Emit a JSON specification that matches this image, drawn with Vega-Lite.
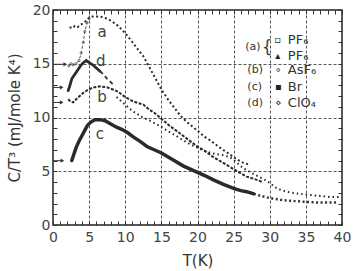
{
 "$schema": "https://vega.github.io/schema/vega-lite/v6.json",
 "width": 289, "height": 215,
 "autosize": "none",
 "padding": {"left": 53, "top": 10, "right": 12, "bottom": 46},
 "background": "white",
 "config": {"view": {"stroke": "#222", "strokeWidth": 1.5}, "font": "DejaVu Sans"},
 "datasets": {
  "curves": [
   {"s":"a","T":2.3,"C":18.4},{"s":"a","T":2.7,"C":18.3},{"s":"a","T":3.0,"C":18.5},{"s":"a","T":3.4,"C":18.4},{"s":"a","T":3.8,"C":18.6},{"s":"a","T":4.2,"C":18.8},{"s":"a","T":4.6,"C":19.0},{"s":"a","T":5.0,"C":19.3},{"s":"a","T":5.5,"C":19.4},{"s":"a","T":6.0,"C":19.4},{"s":"a","T":6.5,"C":19.4},{"s":"a","T":7.0,"C":19.3},{"s":"a","T":7.5,"C":19.2},{"s":"a","T":8.0,"C":19.0},{"s":"a","T":8.7,"C":18.7},{"s":"a","T":9.5,"C":18.2},{"s":"a","T":10.3,"C":17.6},{"s":"a","T":11.0,"C":17.0},{"s":"a","T":11.8,"C":16.3},{"s":"a","T":12.5,"C":15.7},{"s":"a","T":13.4,"C":14.6},{"s":"a","T":14.2,"C":13.6},{"s":"a","T":15.1,"C":12.5},{"s":"a","T":16.0,"C":11.6},{"s":"a","T":16.8,"C":10.9},{"s":"a","T":17.6,"C":10.2},{"s":"a","T":18.5,"C":9.6},{"s":"a","T":19.4,"C":9.1},{"s":"a","T":20.3,"C":8.6},{"s":"a","T":21.0,"C":8.2},{"s":"a","T":21.7,"C":7.9},{"s":"a","T":22.5,"C":7.5},{"s":"a","T":23.3,"C":7.1},{"s":"a","T":24.0,"C":6.8},{"s":"a","T":24.8,"C":6.4},{"s":"a","T":25.5,"C":6.1},{"s":"a","T":26.3,"C":5.8},{"s":"a","T":27.2,"C":5.6},
   {"s":"a2","T":2.2,"C":14.8},{"s":"a2","T":2.5,"C":15.0},{"s":"a2","T":2.8,"C":14.9},{"s":"a2","T":3.2,"C":15.0},{"s":"a2","T":3.6,"C":15.3},{"s":"a2","T":3.9,"C":16.0},{"s":"a2","T":4.2,"C":17.0},{"s":"a2","T":4.4,"C":18.0},{"s":"a2","T":4.7,"C":18.8},{"s":"a2","T":5.0,"C":19.2},
   {"s":"d","T":2.1,"C":12.5},{"s":"d","T":2.3,"C":12.9},{"s":"d","T":2.6,"C":13.6},{"s":"d","T":3.0,"C":14.0},{"s":"d","T":3.4,"C":14.4},{"s":"d","T":3.8,"C":14.8},{"s":"d","T":4.2,"C":15.1},{"s":"d","T":4.6,"C":15.3},{"s":"d","T":5.0,"C":15.1},{"s":"d","T":5.5,"C":14.9},{"s":"d","T":6.0,"C":14.6},{"s":"d","T":6.5,"C":14.3},
   {"s":"d2","T":6.5,"C":14.3},{"s":"d2","T":7.0,"C":14.0},{"s":"d2","T":7.5,"C":13.6},{"s":"d2","T":8.0,"C":13.3},{"s":"d2","T":8.4,"C":13.0},
   {"s":"b","T":2.1,"C":11.7},{"s":"b","T":2.4,"C":11.5},{"s":"b","T":2.8,"C":11.4},{"s":"b","T":3.2,"C":11.7},{"s":"b","T":3.7,"C":12.0},{"s":"b","T":4.2,"C":12.3},{"s":"b","T":4.9,"C":12.6},{"s":"b","T":5.6,"C":12.8},{"s":"b","T":6.5,"C":12.9},{"s":"b","T":7.5,"C":12.8},{"s":"b","T":8.3,"C":12.6},{"s":"b","T":9.0,"C":12.4},{"s":"b","T":10.0,"C":11.9},{"s":"b","T":11.1,"C":11.5},{"s":"b","T":12.0,"C":11.3},{"s":"b","T":12.5,"C":11.2},{"s":"b","T":13.4,"C":10.7},{"s":"b","T":14.1,"C":10.4},{"s":"b","T":14.8,"C":10.0},{"s":"b","T":16.0,"C":9.3},{"s":"b","T":17.0,"C":8.8},{"s":"b","T":18.0,"C":8.3},{"s":"b","T":19.0,"C":7.8},{"s":"b","T":20.0,"C":7.3},{"s":"b","T":21.0,"C":6.9},{"s":"b","T":22.0,"C":6.4},{"s":"b","T":23.0,"C":6.0},{"s":"b","T":24.0,"C":5.6},{"s":"b","T":25.0,"C":5.2},{"s":"b","T":26.0,"C":4.8},{"s":"b","T":26.8,"C":4.5},{"s":"b","T":27.8,"C":4.3},{"s":"b","T":29.0,"C":4.0},
   {"s":"e","T":8.8,"C":11.9},{"s":"e","T":9.8,"C":11.3},{"s":"e","T":11.0,"C":10.6},{"s":"e","T":12.2,"C":10.1},{"s":"e","T":13.4,"C":9.7},{"s":"e","T":14.8,"C":9.2},{"s":"e","T":16.0,"C":8.7},{"s":"e","T":17.0,"C":8.3},{"s":"e","T":18.0,"C":7.9},{"s":"e","T":19.0,"C":7.5},{"s":"e","T":20.3,"C":7.1},{"s":"e","T":21.3,"C":6.8},{"s":"e","T":22.5,"C":6.6},{"s":"e","T":23.5,"C":6.5},{"s":"e","T":24.5,"C":6.3},{"s":"e","T":25.3,"C":5.9},{"s":"e","T":26.3,"C":5.3},{"s":"e","T":27.3,"C":4.9},{"s":"e","T":28.5,"C":4.5},{"s":"e","T":29.6,"C":4.1},{"s":"e","T":30.4,"C":3.7},{"s":"e","T":31.0,"C":3.4},{"s":"e","T":31.8,"C":3.2},{"s":"e","T":33.0,"C":3.0},{"s":"e","T":34.2,"C":2.9},{"s":"e","T":35.5,"C":2.8},{"s":"e","T":37.0,"C":2.7},{"s":"e","T":38.5,"C":2.6},{"s":"e","T":39.8,"C":2.6},
   {"s":"c","T":2.6,"C":6.0},{"s":"c","T":2.9,"C":6.6},{"s":"c","T":3.2,"C":7.2},{"s":"c","T":3.6,"C":7.8},{"s":"c","T":4.0,"C":8.3},{"s":"c","T":4.4,"C":8.8},{"s":"c","T":4.8,"C":9.3},{"s":"c","T":5.3,"C":9.6},{"s":"c","T":5.8,"C":9.8},{"s":"c","T":6.5,"C":9.8},{"s":"c","T":7.2,"C":9.7},{"s":"c","T":8.0,"C":9.4},{"s":"c","T":8.8,"C":9.1},{"s":"c","T":9.5,"C":8.9},{"s":"c","T":10.3,"C":8.6},{"s":"c","T":11.1,"C":8.2},{"s":"c","T":12.0,"C":7.8},{"s":"c","T":13.0,"C":7.3},{"s":"c","T":14.0,"C":7.0},{"s":"c","T":15.0,"C":6.7},{"s":"c","T":16.0,"C":6.3},{"s":"c","T":17.0,"C":5.9},{"s":"c","T":18.0,"C":5.5},{"s":"c","T":19.0,"C":5.2},{"s":"c","T":20.0,"C":4.9},{"s":"c","T":21.0,"C":4.6},{"s":"c","T":22.2,"C":4.2},{"s":"c","T":23.5,"C":3.8},{"s":"c","T":25.0,"C":3.4},{"s":"c","T":26.0,"C":3.2},{"s":"c","T":26.8,"C":3.1},{"s":"c","T":27.8,"C":2.9},
   {"s":"c2","T":27.8,"C":2.9},{"s":"c2","T":28.8,"C":2.7},{"s":"c2","T":30.0,"C":2.5},{"s":"c2","T":31.0,"C":2.4},{"s":"c2","T":32.0,"C":2.3},{"s":"c2","T":33.0,"C":2.25},{"s":"c2","T":34.0,"C":2.2},{"s":"c2","T":35.0,"C":2.15},{"s":"c2","T":36.5,"C":2.1},{"s":"c2","T":38.0,"C":2.1},{"s":"c2","T":39.5,"C":2.1}
  ],
  "arrows": [
   {"C":14.95,"T0":0,"T1":1.7},{"C":12.8,"T0":0,"T1":1.2},{"C":11.4,"T0":0,"T1":1.2},{"C":5.98,"T0":0,"T1":1.3}
  ],
  "tags": [
   {"t":"a","T":6.8,"C":18.0},{"t":"d","T":6.6,"C":15.3},{"t":"b","T":6.8,"C":11.9},{"t":"c","T":6.5,"C":8.5}
  ],
  "legtags": [
   {"t":"(a)","T":26.6,"C":16.6},{"t":"(b)","T":26.9,"C":14.4},{"t":"(c)","T":26.9,"C":12.85},{"t":"(d)","T":26.9,"C":11.35}
  ],
  "legsyms": [
   {"t":"▫","T":31.1,"C":17.2},{"t":"▴","T":31.1,"C":15.7},{"t":"∘","T":31.2,"C":14.4},{"t":"▪","T":31.2,"C":12.85},{"t":"⋄","T":31.2,"C":11.35}
  ],
  "legnames": [
   {"t":"PF₆","T":32.5,"C":17.2},{"t":"PF₆","T":32.5,"C":15.7},{"t":"AsF₆","T":32.5,"C":14.4},{"t":"Br","T":32.5,"C":12.85},{"t":"ClO₄","T":32.5,"C":11.35}
  ],
  "brace": [{"t":"{","T":28.9,"C":16.45}]
 },
 "layer": [
  {
   "data": {"name": "curves"},
   "transform": [{"filter": "datum.s === 'c'"}],
   "mark": {"type": "line", "strokeWidth": 3.5, "color": "#2a2a2a", "strokeCap": "round"},
   "encoding": {
    "x": {"field": "T", "type": "quantitative", "scale": {"domain": [0, 40], "nice": false},
     "axis": {"orient": "bottom", "values": [0,1,2,3,4,5,6,7,8,9,10,11,12,13,14,15,16,17,18,19,20,21,22,23,24,25,26,27,28,29,30,31,32,33,34,35,36,37,38,39,40],
      "labelExpr": "datum.value % 5 === 0 ? datum.label : ''", "labelFlush": false, "labelOverlap": false,
      "labelFontSize": 14, "labelColor": "#444", "labelFont": "DejaVu Sans", "labelPadding": 9,
      "tickSize": -4, "tickColor": "#333", "tickWidth": 1,
      "grid": true, "gridDash": [3, 2], "gridColor": "#444", "gridWidth": 0.9,
      "gridOpacity": {"condition": {"test": "datum.value % 5 === 0 && datum.value > 0 && datum.value < 40", "value": 1}, "value": 0},
      "domain": false, "title": "T(K)", "titleFontSize": 15, "titleFontWeight": "normal", "titleColor": "#333", "titleFont": "DejaVu Sans", "titlePadding": 9}},
    "y": {"field": "C", "type": "quantitative", "scale": {"domain": [0, 20], "nice": false},
     "axis": {"orient": "left", "values": [0,1,2,3,4,5,6,7,8,9,10,11,12,13,14,15,16,17,18,19,20],
      "labelExpr": "datum.value % 5 === 0 ? datum.label : ''", "labelFlush": false, "labelOverlap": false,
      "labelFontSize": 14, "labelColor": "#444", "labelFont": "DejaVu Sans", "labelPadding": 7,
      "tickSize": -4, "tickColor": "#333", "tickWidth": 1,
      "grid": true, "gridDash": [3, 2], "gridColor": "#444", "gridWidth": 0.9,
      "gridOpacity": {"condition": {"test": "datum.value % 5 === 0 && datum.value > 0 && datum.value < 20", "value": 1}, "value": 0},
      "domain": false, "title": "C/T³ (mJ/mole K⁴)", "titleFontSize": 15, "titleFontWeight": "normal", "titleColor": "#333", "titleFont": "DejaVu Sans", "titlePadding": 10}}
   }
  },
  {
   "data": {"name": "arrows"},
   "mark": {"type": "rule", "strokeWidth": 1, "color": "#333"},
   "encoding": {
    "x": {"field": "T0", "type": "quantitative",
     "axis": {"orient": "top", "values": [0,1,2,3,4,5,6,7,8,9,10,11,12,13,14,15,16,17,18,19,20,21,22,23,24,25,26,27,28,29,30,31,32,33,34,35,36,37,38,39,40], "labels": false, "tickSize": -4, "tickColor": "#333", "grid": false, "domain": false, "title": null}},
    "x2": {"field": "T1"},
    "y": {"field": "C", "type": "quantitative",
     "axis": {"orient": "right", "values": [0,1,2,3,4,5,6,7,8,9,10,11,12,13,14,15,16,17,18,19,20], "labels": false, "tickSize": -4, "tickColor": "#333", "grid": false, "domain": false, "title": null}}
   }
  },
  {
   "data": {"name": "arrows"},
   "mark": {"type": "point", "shape": "triangle-right", "filled": true, "size": 18, "color": "#333", "opacity": 1},
   "encoding": {"x": {"field": "T1", "type": "quantitative", "axis": null}, "y": {"field": "C", "type": "quantitative", "axis": null}}
  },
  {
   "data": {"name": "curves"},
   "transform": [{"filter": "datum.s === 'c2'"}],
   "mark": {"type": "line", "strokeWidth": 2.5, "strokeDash": [2, 2.5], "color": "#333"},
   "encoding": {"x": {"field": "T", "type": "quantitative", "axis": null}, "y": {"field": "C", "type": "quantitative", "axis": null}}
  },
  {
   "data": {"name": "curves"},
   "transform": [{"filter": "datum.s === 'a'"}],
   "mark": {"type": "line", "strokeWidth": 2, "strokeDash": [2, 2.5], "color": "#2a2a2a"},
   "encoding": {"x": {"field": "T", "type": "quantitative", "axis": null}, "y": {"field": "C", "type": "quantitative", "axis": null}}
  },
  {
   "data": {"name": "curves"},
   "transform": [{"filter": "datum.s === 'a2'"}],
   "mark": {"type": "line", "strokeWidth": 1, "strokeDash": [3, 2], "color": "#555", "point": {"filled": false, "size": 5, "color": "#555", "strokeWidth": 0.8}},
   "encoding": {"x": {"field": "T", "type": "quantitative", "axis": null}, "y": {"field": "C", "type": "quantitative", "axis": null}}
  },
  {
   "data": {"name": "curves"},
   "transform": [{"filter": "datum.s === 'd'"}],
   "mark": {"type": "line", "strokeWidth": 2.8, "color": "#2a2a2a", "strokeCap": "round"},
   "encoding": {"x": {"field": "T", "type": "quantitative", "axis": null}, "y": {"field": "C", "type": "quantitative", "axis": null}}
  },
  {
   "data": {"name": "curves"},
   "transform": [{"filter": "datum.s === 'd2'"}],
   "mark": {"type": "line", "strokeWidth": 1.8, "strokeDash": [4, 3], "color": "#333"},
   "encoding": {"x": {"field": "T", "type": "quantitative", "axis": null}, "y": {"field": "C", "type": "quantitative", "axis": null}}
  },
  {
   "data": {"name": "curves"},
   "transform": [{"filter": "datum.s === 'b'"}],
   "mark": {"type": "line", "strokeWidth": 2, "strokeDash": [3, 1.5], "color": "#2a2a2a"},
   "encoding": {"x": {"field": "T", "type": "quantitative", "axis": null}, "y": {"field": "C", "type": "quantitative", "axis": null}}
  },
  {
   "data": {"name": "curves"},
   "transform": [{"filter": "datum.s === 'e'"}],
   "mark": {"type": "line", "strokeWidth": 2, "strokeDash": [1.5, 3], "color": "#2a2a2a"},
   "encoding": {"x": {"field": "T", "type": "quantitative", "axis": null}, "y": {"field": "C", "type": "quantitative", "axis": null}}
  },
  {
   "data": {"name": "tags"},
   "mark": {"type": "text", "fontSize": 15, "color": "#444", "font": "DejaVu Sans", "align": "center", "baseline": "middle"},
   "encoding": {"x": {"field": "T", "type": "quantitative", "axis": null}, "y": {"field": "C", "type": "quantitative", "axis": null}, "text": {"field": "t"}}
  },
  {
   "data": {"name": "legtags"},
   "mark": {"type": "text", "fontSize": 11, "color": "#333", "font": "DejaVu Sans", "align": "left", "baseline": "middle"},
   "encoding": {"x": {"field": "T", "type": "quantitative", "axis": null}, "y": {"field": "C", "type": "quantitative", "axis": null}, "text": {"field": "t"}}
  },
  {
   "data": {"name": "legsyms"},
   "mark": {"type": "text", "fontSize": 10, "color": "#222", "font": "DejaVu Sans", "align": "center", "baseline": "middle"},
   "encoding": {"x": {"field": "T", "type": "quantitative", "axis": null}, "y": {"field": "C", "type": "quantitative", "axis": null}, "text": {"field": "t"}}
  },
  {
   "data": {"name": "legnames"},
   "mark": {"type": "text", "fontSize": 13, "color": "#333", "font": "DejaVu Sans", "align": "left", "baseline": "middle"},
   "encoding": {"x": {"field": "T", "type": "quantitative", "axis": null}, "y": {"field": "C", "type": "quantitative", "axis": null}, "text": {"field": "t"}}
  },
  {
   "data": {"name": "brace"},
   "mark": {"type": "text", "fontSize": 17, "color": "#444", "font": "DejaVu Sans", "align": "left", "baseline": "middle"},
   "encoding": {"x": {"field": "T", "type": "quantitative", "axis": null}, "y": {"field": "C", "type": "quantitative", "axis": null}, "text": {"field": "t"}}
  }
 ],
 "resolve": {"axis": {"x": "independent", "y": "independent"}}
}
